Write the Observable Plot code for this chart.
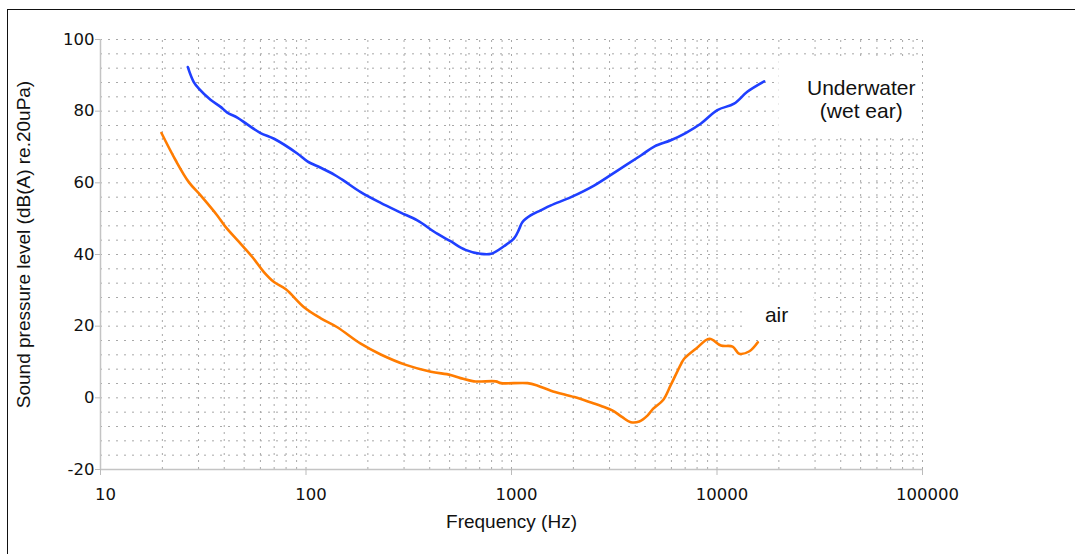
<!DOCTYPE html>
<html><head><meta charset="utf-8">
<script src="https://cdn.jsdelivr.net/npm/d3@7"></script>
<script src="https://cdn.jsdelivr.net/npm/@observablehq/plot@0.6"></script>
<style>
html,body{margin:0;padding:0;background:#fff;}
#wrap{position:relative;width:1075px;height:554px;overflow:hidden;}
#frame{position:absolute;left:7px;top:9px;width:1200px;height:700px;border-left:1.5px solid #111;border-top:1.5px solid #111;pointer-events:none;}
</style></head><body><div id="wrap"><div id="chart"></div><div id="frame"></div></div>
<script>
// Underwater (wet ear) hearing threshold
const waterFreq = [26.6, 28.4, 30.1, 34.3, 38.4, 41.4, 46.3, 51.8, 60.1, 69.9, 90.7, 101.6, 118, 137, 150, 184.6, 231, 289, 348, 435, 505, 597, 706, 796, 918, 1029, 1088, 1129, 1238, 1385, 1555, 1948, 2534, 3293, 4278, 4969, 5960, 7036, 8328, 10041, 12108, 14040, 16962];
const waterLevel = [92.3, 88.2, 86.3, 83.2, 81.2, 79.6, 78.2, 76.3, 73.9, 72.3, 68.2, 66.0, 64.2, 62.3, 60.9, 57.4, 54.4, 51.7, 49.5, 45.8, 43.7, 41.3, 40.2, 40.2, 42.3, 44.5, 47.0, 49.0, 50.9, 52.3, 53.7, 56.0, 59.3, 63.5, 67.7, 70.2, 71.9, 73.9, 76.5, 80.3, 82.1, 85.4, 88.3];
// Air hearing threshold
const airFreq = [19.8, 23.2, 26.9, 30.7, 37.0, 40.6, 47.2, 54.8, 62.4, 69.9, 79.8, 97.8, 118, 142, 184.6, 231, 306, 405, 505, 565, 656, 838, 889, 1197, 1342, 1555, 2024, 2461, 2770, 3092, 3462, 3807, 4188, 4600, 4880, 5469, 5960, 6690, 6920, 7900, 9180, 10450, 11910, 12830, 14380, 15800];
const airLevel = [73.9, 66.3, 60.2, 56.5, 50.9, 47.7, 43.5, 39.3, 35.1, 32.3, 30.3, 25.3, 22.2, 19.7, 15.1, 12.1, 9.2, 7.3, 6.4, 5.5, 4.6, 4.6, 4.1, 4.1, 3.4, 2.0, 0.2, -1.4, -2.4, -3.5, -5.4, -6.8, -6.6, -4.9, -3.1, -0.6, 3.6, 9.5, 10.9, 13.7, 16.5, 14.6, 14.3, 12.3, 13.0, 15.5];

const xTicks = [10, 100, 1000, 10000, 100000];
const yTicks = [-20, 0, 20, 40, 60, 80, 100];
const xTitle = "Frequency (Hz)";
const yTitle = "Sound pressure level (dB(A) re.20uPa)";

const labelText = ["Underwater\n(wet ear)", "air"];
const labelFreq = [50350, 19500];
const labelLevel = [83.4, 23.3];
const boxX1 = [20000, 13900];
const boxX2 = [100000, 29700];
const boxY1 = [73.5, 16.6];
const boxY2 = [94.5, 30];

const water = waterFreq.map((f, i) => ({f, v: waterLevel[i]}));
const air = airFreq.map((f, i) => ({f, v: airLevel[i]}));
const labels = labelText.map((t, i) => ({t, f: labelFreq[i], v: labelLevel[i]}));
const boxes = boxX1.map((x1, i) => ({x1, x2: boxX2[i], y1: boxY1[i], y2: boxY2[i]}));

const gridX = [];
for (const d of [10, 100, 1000, 10000]) for (let k = 1; k <= 9; k++) gridX.push(k * d);
gridX.push(100000);
const gridY = d3.range(-20, 101, 4);

const chart = Plot.plot({
  width: 1075, height: 554,
  marginLeft: 100, marginRight: 153, marginTop: 39, marginBottom: 85,
  x: {type: "log", domain: [10, 100000]},
  y: {domain: [-20, 100]},
  style: {fontFamily: "DejaVu Sans", background: "transparent", color: "#111"},
  marks: [
    Plot.ruleX(gridX, {y1: -20, y2: 100, stroke: "#a8a8a8", strokeDasharray: "2,5", strokeWidth: 1}),
    Plot.ruleY(gridY, {x1: 10, x2: 100000, stroke: "#a8a8a8", strokeDasharray: "2,6", strokeWidth: 1}),
    Plot.rect(boxes, {x1: "x1", x2: "x2", y1: "y1", y2: "y2", fill: "white"}),
    Plot.ruleX([10], {y1: -20, y2: 100, stroke: "#c4c4c4", strokeWidth: 1.5}),
    Plot.ruleY([-20], {x1: 10, x2: 100000, stroke: "#c4c4c4", strokeWidth: 1.5}),
    Plot.axisX(xTicks, {tickSize: 6, tickFormat: () => "", stroke: "#bbb", label: null}),
    Plot.axisX(xTicks, {tickSize: 0, tickPadding: 19, dx: 5, tickFormat: d => String(d), fontSize: 16.5, fill: "#111", label: null}),
    Plot.axisY(yTicks, {tickSize: 5, tickPadding: 1, tickFormat: d => String(d), fontSize: 16.5, stroke: "#bbb", fill: "#111", label: null}),
    Plot.line(water, {x: "f", y: "v", stroke: "#1f3fff", strokeWidth: 2.6, strokeLinejoin: "round", curve: "catmull-rom"}),
    Plot.line(air, {x: "f", y: "v", stroke: "#ff7c00", strokeWidth: 2.6, strokeLinejoin: "round", curve: "catmull-rom"}),
    Plot.text(labels, {x: "f", y: "v", text: "t", fontSize: 21, fontFamily: "Liberation Sans", lineHeight: 1.1, fill: "#111"}),
    Plot.text([xTitle], {frameAnchor: "bottom", lineAnchor: "middle", textAnchor: "middle", dy: 52, text: d => d, fontSize: 19, fontFamily: "Liberation Sans", fill: "#111"}),
    Plot.text([yTitle], {frameAnchor: "left", lineAnchor: "middle", textAnchor: "middle", dx: -77, dy: -10, rotate: -90, text: d => d, fontSize: 19, fontFamily: "Liberation Sans", fill: "#111"})
  ]
});
document.getElementById("chart").appendChild(chart);
</script>
</body></html>
